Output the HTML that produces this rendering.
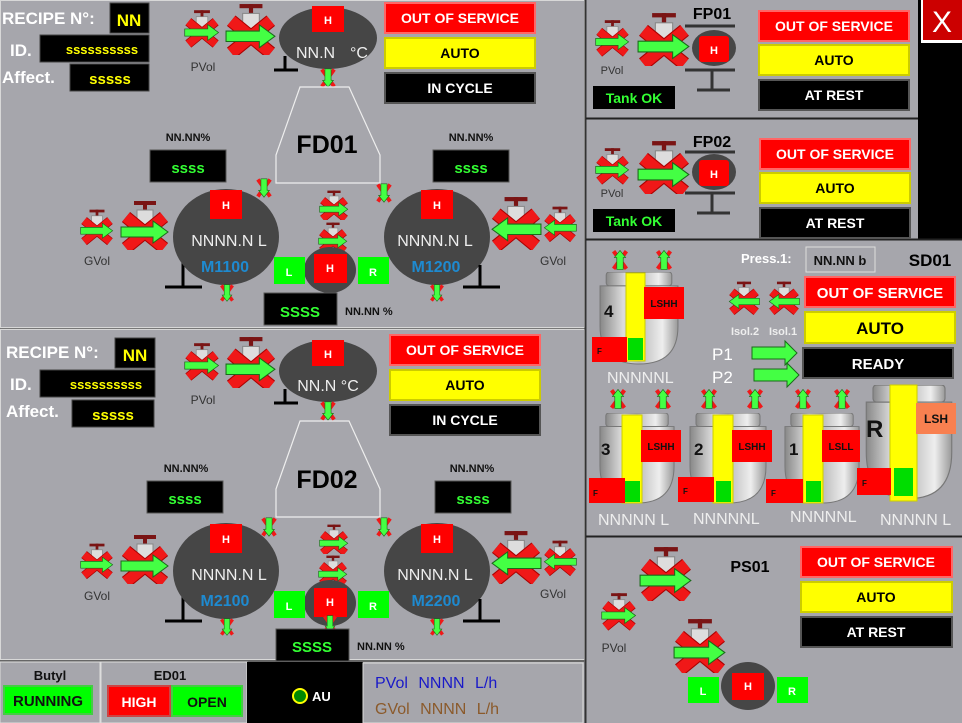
<!DOCTYPE html>
<html><head><meta charset="utf-8"><style>
html,body{margin:0;padding:0;background:#a6a6ac;}
svg{display:block;font-family:"Liberation Sans",Arial,sans-serif;font-weight:bold;}
</style></head><body>
<svg width="962" height="723" viewBox="0 0 962 723" xmlns="http://www.w3.org/2000/svg">
<defs>
<symbol id="v" viewBox="0 0 50 50">
<rect x="14" y="1" width="22" height="4" fill="#7a1414"/><rect x="23" y="1" width="4" height="10" fill="#7a1414"/>
<rect x="17" y="10" width="16" height="16" fill="#ddd" stroke="#888"/>
<line x1="6" y1="17" x2="44" y2="48" stroke="#a00" stroke-width="13"/><line x1="44" y1="17" x2="6" y2="48" stroke="#a00" stroke-width="13"/>
<line x1="6" y1="17" x2="44" y2="48" stroke="#f01818" stroke-width="11"/><line x1="44" y1="17" x2="6" y2="48" stroke="#f01818" stroke-width="11"/>
<polygon points="1,27 33,27 33,21 48,32 33,43 33,37 1,37" fill="#4f4" stroke="#1a6a1a"/>
</symbol>
<symbol id="vd" viewBox="0 0 20 26">
<line x1="2" y1="2" x2="18" y2="24" stroke="#f01818" stroke-width="5"/><line x1="18" y1="2" x2="2" y2="24" stroke="#f01818" stroke-width="5"/>
<polygon points="6,1 14,1 14,16 17,16 10,25 3,16 6,16" fill="#4f4" stroke="#1a6a1a" stroke-width="0.8"/>
</symbol>
<symbol id="vu" viewBox="0 0 20 26">
<line x1="2" y1="2" x2="18" y2="24" stroke="#f01818" stroke-width="5"/><line x1="18" y1="2" x2="2" y2="24" stroke="#f01818" stroke-width="5"/>
<polygon points="6,25 14,25 14,10 17,10 10,1 3,10 6,10" fill="#4f4" stroke="#1a6a1a" stroke-width="0.8"/>
<line x1="21" y1="6" x2="21" y2="20" stroke="#c00" stroke-width="1.5"/>
</symbol>
<linearGradient id="sil" x1="0" x2="1"><stop offset="0" stop-color="#888"/><stop offset=".3" stop-color="#ddd"/><stop offset=".5" stop-color="#bbb"/><stop offset=".8" stop-color="#eee"/><stop offset="1" stop-color="#999"/></linearGradient>
<symbol id="tk" viewBox="0 0 80 95" preserveAspectRatio="none">
<rect x="8" y="0" width="64" height="14" rx="3" fill="url(#sil)" stroke="#777"/>
<path d="M2,14 H78 V55 Q78,93 40,93 Q2,93 2,55 Z" fill="url(#sil)" stroke="#777"/>
</symbol>
</defs>

<rect x="0.5" y="0.5" width="584" height="327" fill="none" stroke="#d8d8d8"/>
<rect x="0.5" y="329.5" width="584" height="330" fill="none" stroke="#d8d8d8"/>
<line x1="0" y1="328.5" x2="585" y2="328.5" stroke="#777"/>
<line x1="585.5" y1="0" x2="585.5" y2="723" stroke="#333" stroke-width="2"/>
<rect x="918" y="0" width="44" height="240" fill="#000"/>
<rect x="921" y="0" width="41" height="43" fill="#fff"/><rect x="923" y="0" width="39" height="40" fill="#c00"/>
<text x="942" y="32" fill="#fff" font-size="30" font-weight="normal" text-anchor="middle">X</text>
<line x1="586" y1="118.5" x2="918" y2="118.5" stroke="#222" stroke-width="2"/>
<line x1="586" y1="239.5" x2="962" y2="239.5" stroke="#222" stroke-width="2"/>
<line x1="586" y1="536.5" x2="962" y2="536.5" stroke="#222" stroke-width="2"/>
<line x1="0" y1="661" x2="585" y2="661" stroke="#666" stroke-width="2"/>

<!-- ===== FD01 panel ===== -->
<text x="2" y="24" fill="#fff" font-size="17">RECIPE N°:</text>
<text x="10" y="56" fill="#fff" font-size="17">ID.</text>
<text x="2" y="83" fill="#fff" font-size="17">Affect.</text>
<rect x="110" y="3" width="39" height="30" fill="#000" stroke="#444"/><text x="129" y="26" fill="#ff0" font-size="17" text-anchor="middle">NN</text>
<rect x="40" y="35" width="109" height="27" fill="#000" stroke="#444"/><text x="102" y="54" fill="#ff0" font-size="13" text-anchor="middle">ssssssssss</text>
<rect x="70" y="64" width="79" height="27" fill="#000" stroke="#444"/><text x="110" y="84" fill="#ff0" font-size="15" text-anchor="middle">sssss</text>

<use href="#v" x="184" y="5" width="36" height="45"/><text x="203" y="71" fill="#333" font-size="12" font-weight="normal" text-anchor="middle">PVol</text>
<use href="#v" x="224" y="3" width="54" height="52"/>
<ellipse cx="328" cy="38" rx="49" ry="31" fill="#464646"/>
<rect x="312" y="6" width="32" height="26" fill="#f00"/><text x="328" y="24" fill="#fff" font-size="11" text-anchor="middle">H</text>
<text x="296" y="58" fill="#eee" font-size="16" font-weight="normal">NN.N</text><text x="350" y="58" fill="#eee" font-size="16" font-weight="normal">°C</text>
<path d="M285 56 V70 M274 70 H298" stroke="#000" stroke-width="3" fill="none"/>
<use href="#vd" x="318" y="68" width="20" height="20"/>
<path d="M300 87 H349 L380 155 V183 H276 V155 Z" fill="none" stroke="#eee" stroke-width="1.2"/>
<text x="327" y="153" fill="#000" font-size="25" text-anchor="middle">FD01</text>

<g font-size="14" text-anchor="middle">
<rect x="385" y="3" width="150" height="30" fill="#f00" stroke="#f66" stroke-width="2"/><text x="460" y="23" fill="#fff">OUT OF SERVICE</text>
<rect x="385" y="38" width="150" height="30" fill="#ff0" stroke="#cc0" stroke-width="2"/><text x="460" y="58" fill="#000">AUTO</text>
<rect x="385" y="73" width="150" height="30" fill="#000" stroke="#555" stroke-width="2"/><text x="460" y="93" fill="#fff">IN CYCLE</text>
</g>

<text x="188" y="141" fill="#111" font-size="11" text-anchor="middle">NN.NN%</text>
<rect x="150" y="150" width="76" height="32" fill="#000" stroke="#555"/><text x="188" y="173" fill="#3f3" font-size="15" text-anchor="middle">ssss</text>
<text x="471" y="141" fill="#111" font-size="11" text-anchor="middle">NN.NN%</text>
<rect x="433" y="150" width="76" height="32" fill="#000" stroke="#555"/><text x="471" y="173" fill="#3f3" font-size="15" text-anchor="middle">ssss</text>

<use href="#v" x="80" y="202" width="34" height="48"/><text x="97" y="265" fill="#333" font-size="12" font-weight="normal" text-anchor="middle">GVol</text>
<use href="#v" x="118" y="200" width="54" height="50"/>
<path d="M183 262 V288 M165 287 H202" stroke="#000" stroke-width="3"/>
<ellipse cx="226" cy="237" rx="53" ry="48" fill="#464646"/>
<rect x="210" y="190" width="32" height="29" fill="#f00"/><text x="226" y="209" fill="#fff" font-size="11" text-anchor="middle">H</text>
<text x="229" y="246" fill="#eee" font-size="16" font-weight="normal" text-anchor="middle">NNNN.N  L</text>
<text x="225" y="272" fill="#1e8ad0" font-size="16" text-anchor="middle">M1100</text>
<use href="#vd" x="218" y="284" width="18" height="18"/>

<ellipse cx="437" cy="237" rx="53" ry="48" fill="#464646"/>
<rect x="421" y="190" width="32" height="29" fill="#f00"/><text x="437" y="209" fill="#fff" font-size="11" text-anchor="middle">H</text>
<text x="435" y="246" fill="#eee" font-size="16" font-weight="normal" text-anchor="middle">NNNN.N  L</text>
<text x="436" y="272" fill="#1e8ad0" font-size="16" text-anchor="middle">M1200</text>
<use href="#vd" x="428" y="284" width="18" height="18"/>
<path d="M480 265 V288 M463 287 H500" stroke="#000" stroke-width="3"/>
<g transform="translate(542,194) scale(-1,1)"><use href="#v" x="0" y="0" width="52" height="56"/></g>
<g transform="translate(577,198) scale(-1,1)"><use href="#v" x="0" y="0" width="34" height="50"/></g>
<text x="553" y="265" fill="#333" font-size="12" font-weight="normal" text-anchor="middle">GVol</text>

<use href="#vd" x="253" y="178" width="22" height="20"/>
<use href="#vd" x="373" y="183" width="22" height="20"/>
<use href="#v" x="318" y="190" width="32" height="30"/>
<use href="#v" x="312" y="222" width="42" height="30"/>
<ellipse cx="330" cy="270" rx="26" ry="23" fill="#464646"/>
<rect x="274" y="257" width="31" height="27" fill="#0f0"/><text x="289" y="276" fill="#fff" font-size="11" text-anchor="middle">L</text>
<rect x="358" y="257" width="31" height="27" fill="#0f0"/><text x="373" y="276" fill="#fff" font-size="11" text-anchor="middle">R</text>
<rect x="314" y="254" width="33" height="29" fill="#f00"/><text x="330" y="272" fill="#fff" font-size="11" text-anchor="middle">H</text>
<rect x="264" y="293" width="73" height="32" fill="#000" stroke="#555"/><text x="300" y="317" fill="#3f3" font-size="15" text-anchor="middle">SSSS</text>
<text x="345" y="315" fill="#111" font-size="11">NN.NN  %</text>

<!-- ===== FD02 panel ===== -->
<text x="6" y="358" fill="#fff" font-size="17">RECIPE N°:</text>
<text x="10" y="390" fill="#fff" font-size="17">ID.</text>
<text x="6" y="417" fill="#fff" font-size="17">Affect.</text>
<rect x="115" y="338" width="40" height="30" fill="#000" stroke="#444"/><text x="135" y="361" fill="#ff0" font-size="17" text-anchor="middle">NN</text>
<rect x="40" y="370" width="115" height="27" fill="#000" stroke="#444"/><text x="106" y="389" fill="#ff0" font-size="13" text-anchor="middle">ssssssssss</text>
<rect x="72" y="400" width="82" height="27" fill="#000" stroke="#444"/><text x="113" y="420" fill="#ff0" font-size="15" text-anchor="middle">sssss</text>

<use href="#v" x="184" y="338" width="36" height="45"/><text x="203" y="404" fill="#333" font-size="12" font-weight="normal" text-anchor="middle">PVol</text>
<use href="#v" x="224" y="336" width="54" height="52"/>
<ellipse cx="328" cy="371" rx="49" ry="31" fill="#464646"/>
<rect x="312" y="340" width="32" height="26" fill="#f00"/><text x="328" y="358" fill="#fff" font-size="11" text-anchor="middle">H</text>
<text x="328" y="391" fill="#eee" font-size="16" font-weight="normal" text-anchor="middle">NN.N °C</text>
<path d="M285 389 V403 M274 403 H298" stroke="#000" stroke-width="3" fill="none"/>
<use href="#vd" x="318" y="401" width="20" height="20"/>
<path d="M300 421 H349 L380 489 V517 H276 V489 Z" fill="none" stroke="#eee" stroke-width="1.2"/>
<text x="327" y="488" fill="#000" font-size="25" text-anchor="middle">FD02</text>

<g font-size="14" text-anchor="middle">
<rect x="390" y="335" width="150" height="30" fill="#f00" stroke="#f66" stroke-width="2"/><text x="465" y="355" fill="#fff">OUT OF SERVICE</text>
<rect x="390" y="370" width="150" height="30" fill="#ff0" stroke="#cc0" stroke-width="2"/><text x="465" y="390" fill="#000">AUTO</text>
<rect x="390" y="405" width="150" height="30" fill="#000" stroke="#555" stroke-width="2"/><text x="465" y="425" fill="#fff">IN CYCLE</text>
</g>

<text x="186" y="472" fill="#111" font-size="11" text-anchor="middle">NN.NN%</text>
<rect x="147" y="481" width="76" height="32" fill="#000" stroke="#555"/><text x="185" y="504" fill="#3f3" font-size="15" text-anchor="middle">ssss</text>
<text x="472" y="472" fill="#111" font-size="11" text-anchor="middle">NN.NN%</text>
<rect x="435" y="481" width="76" height="32" fill="#000" stroke="#555"/><text x="473" y="504" fill="#3f3" font-size="15" text-anchor="middle">ssss</text>

<use href="#v" x="80" y="536" width="34" height="48"/><text x="97" y="600" fill="#333" font-size="12" font-weight="normal" text-anchor="middle">GVol</text>
<use href="#v" x="118" y="534" width="54" height="50"/>
<path d="M183 596 V622 M165 621 H202" stroke="#000" stroke-width="3"/>
<ellipse cx="226" cy="571" rx="53" ry="48" fill="#464646"/>
<rect x="210" y="524" width="32" height="29" fill="#f00"/><text x="226" y="543" fill="#fff" font-size="11" text-anchor="middle">H</text>
<text x="229" y="580" fill="#eee" font-size="16" font-weight="normal" text-anchor="middle">NNNN.N L</text>
<text x="225" y="606" fill="#1e8ad0" font-size="16" text-anchor="middle">M2100</text>
<use href="#vd" x="218" y="618" width="18" height="18"/>

<ellipse cx="437" cy="571" rx="53" ry="48" fill="#464646"/>
<rect x="421" y="524" width="32" height="29" fill="#f00"/><text x="437" y="543" fill="#fff" font-size="11" text-anchor="middle">H</text>
<text x="435" y="580" fill="#eee" font-size="16" font-weight="normal" text-anchor="middle">NNNN.N L</text>
<text x="436" y="606" fill="#1e8ad0" font-size="16" text-anchor="middle">M2200</text>
<use href="#vd" x="428" y="618" width="18" height="18"/>
<path d="M480 599 V622 M463 621 H500" stroke="#000" stroke-width="3"/>
<g transform="translate(542,528) scale(-1,1)"><use href="#v" x="0" y="0" width="52" height="56"/></g>
<g transform="translate(577,532) scale(-1,1)"><use href="#v" x="0" y="0" width="34" height="50"/></g>
<text x="553" y="598" fill="#333" font-size="12" font-weight="normal" text-anchor="middle">GVol</text>

<use href="#vd" x="258" y="517" width="22" height="20"/>
<use href="#vd" x="373" y="517" width="22" height="20"/>
<use href="#v" x="318" y="524" width="32" height="30"/>
<use href="#v" x="312" y="555" width="42" height="30"/>
<ellipse cx="330" cy="603" rx="26" ry="23" fill="#464646"/>
<rect x="274" y="591" width="31" height="27" fill="#0f0"/><text x="289" y="610" fill="#fff" font-size="11" text-anchor="middle">L</text>
<rect x="358" y="591" width="31" height="27" fill="#0f0"/><text x="373" y="610" fill="#fff" font-size="11" text-anchor="middle">R</text>
<rect x="314" y="588" width="33" height="29" fill="#f00"/><text x="330" y="606" fill="#fff" font-size="11" text-anchor="middle">H</text>
<use href="#vd" x="320" y="615" width="20" height="18"/>
<rect x="276" y="629" width="73" height="32" fill="#000" stroke="#555"/><text x="312" y="652" fill="#3f3" font-size="15" text-anchor="middle">SSSS</text>
<text x="357" y="650" fill="#111" font-size="11">NN.NN  %</text>

<!-- ===== bottom strip ===== -->
<rect x="0" y="662" width="100" height="61" fill="#a6a6ac" stroke="#ddd"/>
<text x="50" y="680" fill="#111" font-size="13" text-anchor="middle">Butyl</text>
<rect x="4" y="686" width="88" height="28" fill="#0f0" stroke="#4c4" stroke-width="2"/><text x="48" y="706" fill="#111" font-size="15" text-anchor="middle">RUNNING</text>
<rect x="101" y="662" width="146" height="61" fill="#a6a6ac" stroke="#ddd"/>
<text x="170" y="680" fill="#111" font-size="13" text-anchor="middle">ED01</text>
<rect x="108" y="686" width="62" height="30" fill="#f00" stroke="#c44" stroke-width="2"/><text x="139" y="707" fill="#fff" font-size="14" text-anchor="middle">HIGH</text>
<rect x="172" y="686" width="70" height="30" fill="#0f0" stroke="#4c4" stroke-width="2"/><text x="207" y="707" fill="#111" font-size="14" text-anchor="middle">OPEN</text>
<rect x="247" y="662" width="116" height="61" fill="#000"/>
<circle cx="300" cy="696" r="7" fill="#080" stroke="#ff0" stroke-width="2"/><text x="312" y="701" fill="#fff" font-size="13">AU</text>
<rect x="363" y="663" width="220" height="60" fill="#a6a6ac" stroke="#ddd"/>
<text x="375" y="688" fill="#1a1ac8" font-size="16" font-weight="normal" word-spacing="6">PVol NNNN L/h</text>
<text x="375" y="714" fill="#8b5a2b" font-size="16" font-weight="normal" word-spacing="6">GVol NNNN L/h</text>

<!-- ===== FP01 / FP02 ===== -->
<use href="#v" x="595" y="14" width="35" height="46"/><text x="612" y="74" fill="#333" font-size="11" font-weight="normal" text-anchor="middle">PVol</text>
<use href="#v" x="636" y="12" width="56" height="54"/>
<text x="712" y="19" fill="#000" font-size="16" text-anchor="middle">FP01</text>
<path d="M685 26 H735 M685 70 H735 M712 70 V90 M697 90 H730" stroke="#333" stroke-width="3"/>
<ellipse cx="714" cy="48" rx="22" ry="18" fill="#464646"/>
<rect x="699" y="36" width="30" height="26" rx="3" fill="#f00"/><text x="714" y="54" fill="#fff" font-size="11" text-anchor="middle">H</text>
<rect x="593" y="86" width="82" height="23" fill="#000"/><text x="634" y="103" fill="#3f3" font-size="14" text-anchor="middle">Tank OK</text>
<g font-size="14" text-anchor="middle">
<rect x="759" y="11" width="150" height="30" fill="#f00" stroke="#f66" stroke-width="2"/><text x="834" y="31" fill="#fff">OUT OF SERVICE</text>
<rect x="759" y="45" width="150" height="30" fill="#ff0" stroke="#cc0" stroke-width="2"/><text x="834" y="65" fill="#000">AUTO</text>
<rect x="759" y="80" width="150" height="30" fill="#000" stroke="#555" stroke-width="2"/><text x="834" y="100" fill="#fff">AT REST</text>
</g>
<use href="#v" x="595" y="142" width="35" height="46"/><text x="612" y="197" fill="#333" font-size="11" font-weight="normal" text-anchor="middle">PVol</text>
<use href="#v" x="636" y="140" width="56" height="54"/>
<text x="712" y="147" fill="#000" font-size="16" text-anchor="middle">FP02</text>
<path d="M685 152 H735 M685 193 H735 M712 193 V213 M697 213 H730" stroke="#333" stroke-width="3"/>
<ellipse cx="714" cy="172" rx="22" ry="18" fill="#464646"/>
<rect x="699" y="160" width="30" height="26" rx="3" fill="#f00"/><text x="714" y="178" fill="#fff" font-size="11" text-anchor="middle">H</text>
<rect x="593" y="209" width="82" height="23" fill="#000"/><text x="634" y="226" fill="#3f3" font-size="14" text-anchor="middle">Tank OK</text>
<g font-size="14" text-anchor="middle">
<rect x="760" y="139" width="150" height="30" fill="#f00" stroke="#f66" stroke-width="2"/><text x="835" y="159" fill="#fff">OUT OF SERVICE</text>
<rect x="760" y="173" width="150" height="30" fill="#ff0" stroke="#cc0" stroke-width="2"/><text x="835" y="193" fill="#000">AUTO</text>
<rect x="760" y="208" width="150" height="30" fill="#000" stroke="#555" stroke-width="2"/><text x="835" y="228" fill="#fff">AT REST</text>
</g>

<!-- ===== SD01 ===== -->
<text x="741" y="263" fill="#fff" font-size="13">Press.1:</text>
<rect x="806" y="247" width="69" height="25" fill="#a6a6ac" stroke="#ddd"/><text x="840" y="265" fill="#111" font-size="13" text-anchor="middle">NN.NN b</text>
<text x="930" y="266" fill="#000" font-size="17" text-anchor="middle">SD01</text>
<g font-size="15" text-anchor="middle">
<rect x="805" y="277" width="150" height="30" fill="#f00" stroke="#f66" stroke-width="2"/><text x="880" y="298" fill="#fff">OUT OF SERVICE</text>
<rect x="805" y="312" width="150" height="31" fill="#ff0" stroke="#cc0" stroke-width="2"/><text x="880" y="334" fill="#000" font-size="17">AUTO</text>
<rect x="803" y="348" width="150" height="30" fill="#000" stroke="#555" stroke-width="2"/><text x="878" y="369" fill="#fff">READY</text>
</g>
<g transform="translate(760,272) scale(-1,1)"><use href="#v" x="0" y="0" width="32" height="50"/></g>
<g transform="translate(800,272) scale(-1,1)"><use href="#v" x="0" y="0" width="32" height="50"/></g>
<text x="745" y="335" fill="#eee" font-size="11" text-anchor="middle">Isol.2</text><text x="783" y="335" fill="#eee" font-size="11" text-anchor="middle">Isol.1</text>
<text x="712" y="360" fill="#fff" font-size="17" font-weight="normal">P1</text><text x="712" y="383" fill="#fff" font-size="17" font-weight="normal">P2</text>
<polygon points="752,347 785,347 785,341 797,353 785,365 785,359 752,359" fill="#4f4" stroke="#1a6a1a"/>
<polygon points="754,369 787,369 787,363 799,375 787,387 787,381 754,381" fill="#4f4" stroke="#1a6a1a"/>

<use href="#vu" x="612" y="249" width="16" height="22"/><use href="#vu" x="656" y="249" width="16" height="22"/>
<use href="#tk" x="598" y="272" width="82" height="94"/>
<text x="604" y="317" fill="#111" font-size="17">4</text>
<rect x="626" y="273" width="19" height="88" fill="#ff0" stroke="#cc0"/><rect x="628" y="338" width="15" height="22" fill="#0d0"/>
<rect x="644" y="287" width="40" height="32" fill="#f00"/><text x="664" y="307" fill="#111" font-size="10" text-anchor="middle">LSHH</text>
<rect x="592" y="337" width="35" height="25" fill="#f00"/><text x="597" y="354" fill="#111" font-size="8">F</text>
<text x="607" y="383" fill="#eee" font-size="16" font-weight="normal">NNNNNL</text>

<use href="#vu" x="610" y="388" width="16" height="22"/><use href="#vu" x="655" y="388" width="16" height="22"/>
<use href="#tk" x="598" y="413" width="78" height="92"/>
<text x="601" y="455" fill="#111" font-size="17">3</text>
<rect x="622" y="415" width="20" height="88" fill="#ff0" stroke="#cc0"/><rect x="625" y="481" width="15" height="21" fill="#0d0"/>
<rect x="641" y="430" width="40" height="32" fill="#f00"/><text x="661" y="450" fill="#111" font-size="10" text-anchor="middle">LSHH</text>
<rect x="589" y="478" width="36" height="25" fill="#f00"/><text x="593" y="496" fill="#111" font-size="8">F</text>
<text x="598" y="525" fill="#eee" font-size="16" font-weight="normal">NNNNN L</text>

<use href="#vu" x="701" y="388" width="16" height="22"/><use href="#vu" x="747" y="388" width="16" height="22"/>
<use href="#tk" x="688" y="413" width="80" height="92"/>
<text x="694" y="455" fill="#111" font-size="17">2</text>
<rect x="713" y="415" width="20" height="88" fill="#ff0" stroke="#cc0"/><rect x="716" y="481" width="15" height="21" fill="#0d0"/>
<rect x="732" y="430" width="40" height="32" fill="#f00"/><text x="752" y="450" fill="#111" font-size="10" text-anchor="middle">LSHH</text>
<rect x="678" y="477" width="36" height="25" fill="#f00"/><text x="683" y="494" fill="#111" font-size="8">F</text>
<text x="693" y="524" fill="#eee" font-size="16" font-weight="normal">NNNNNL</text>

<use href="#vu" x="795" y="388" width="16" height="22"/><use href="#vu" x="834" y="388" width="16" height="22"/>
<use href="#tk" x="783" y="413" width="78" height="92"/>
<text x="789" y="455" fill="#111" font-size="17">1</text>
<rect x="803" y="415" width="20" height="88" fill="#ff0" stroke="#cc0"/><rect x="806" y="481" width="15" height="21" fill="#0d0"/>
<rect x="822" y="430" width="38" height="32" fill="#f00"/><text x="841" y="450" fill="#111" font-size="10" text-anchor="middle">LSLL</text>
<rect x="766" y="479" width="37" height="24" fill="#f00"/><text x="771" y="496" fill="#111" font-size="8">F</text>
<text x="790" y="522" fill="#eee" font-size="16" font-weight="normal">NNNNNL</text>

<use href="#tk" x="864" y="385" width="90" height="116"/>
<text x="866" y="437" fill="#111" font-size="24">R</text>
<rect x="890" y="385" width="27" height="116" fill="#ff0" stroke="#cc0"/><rect x="894" y="468" width="19" height="28" fill="#0d0"/>
<rect x="916" y="403" width="40" height="31" fill="#f88050"/><text x="936" y="423" fill="#111" font-size="12" text-anchor="middle">LSH</text>
<rect x="857" y="468" width="34" height="27" fill="#f00"/><text x="862" y="486" fill="#111" font-size="8">F</text>
<text x="880" y="525" fill="#eee" font-size="16" font-weight="normal">NNNNN L</text>

<!-- ===== PS01 ===== -->
<use href="#v" x="601" y="588" width="36" height="45"/><text x="614" y="652" fill="#333" font-size="12" font-weight="normal" text-anchor="middle">PVol</text>
<use href="#v" x="639" y="545" width="54" height="56"/>
<use href="#v" x="673" y="617" width="54" height="56"/>
<text x="750" y="572" fill="#000" font-size="16" text-anchor="middle">PS01</text>
<ellipse cx="748" cy="686" rx="27" ry="24" fill="#464646"/>
<rect x="688" y="677" width="31" height="26" fill="#0f0"/><text x="703" y="695" fill="#fff" font-size="11" text-anchor="middle">L</text>
<rect x="777" y="677" width="31" height="26" fill="#0f0"/><text x="792" y="695" fill="#fff" font-size="11" text-anchor="middle">R</text>
<rect x="732" y="673" width="32" height="27" fill="#f00"/><text x="748" y="690" fill="#fff" font-size="11" text-anchor="middle">H</text>
<g font-size="14" text-anchor="middle">
<rect x="801" y="547" width="151" height="30" fill="#f00" stroke="#f66" stroke-width="2"/><text x="876" y="567" fill="#fff">OUT OF SERVICE</text>
<rect x="801" y="582" width="151" height="30" fill="#ff0" stroke="#cc0" stroke-width="2"/><text x="876" y="602" fill="#000">AUTO</text>
<rect x="801" y="617" width="151" height="30" fill="#000" stroke="#555" stroke-width="2"/><text x="876" y="637" fill="#fff">AT REST</text>
</g>
</svg>
</body></html>
